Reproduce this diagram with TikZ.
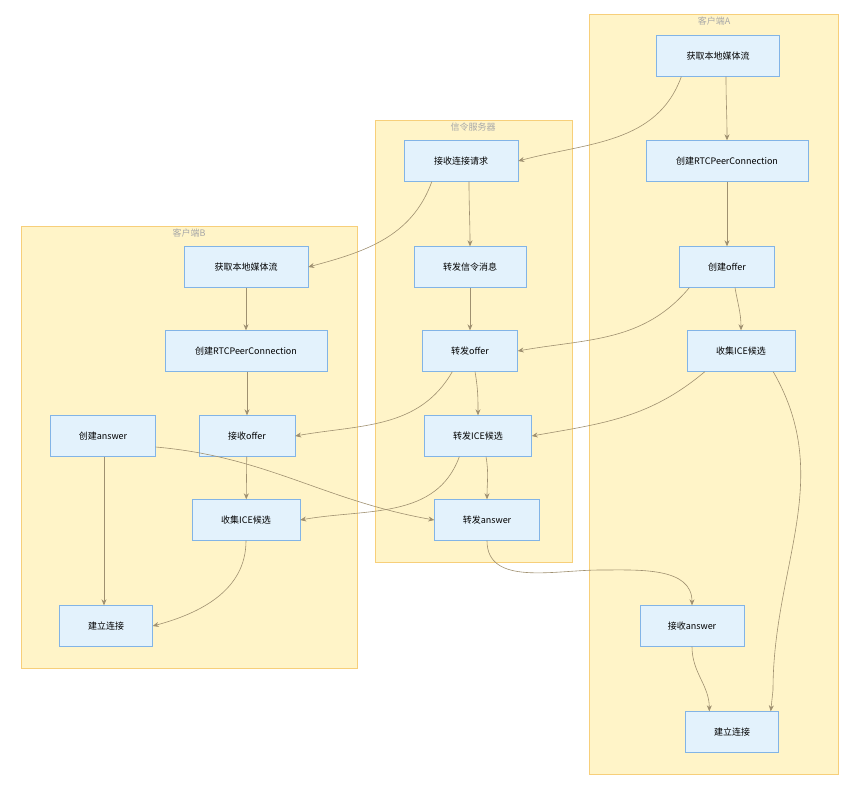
\documentclass[tikz,border=0pt]{standalone}
\usepackage{fontspec}
\setmainfont{Noto Sans CJK SC}
\usetikzlibrary{arrows.meta,calc}
\definecolor{clusterfill}{HTML}{FFF4C8}
\definecolor{clusterline}{HTML}{F7CF7A}
\definecolor{boxfill}{HTML}{E3F2FC}
\definecolor{boxline}{HTML}{82B4E6}
\definecolor{edgecol}{HTML}{9F9070}
\definecolor{titlecol}{HTML}{A8A8A8}
\tikzset{
  flowbox/.style={draw=boxline, fill=boxfill, minimum height=41pt, inner sep=0pt, font=\fontsize{9}{10}\selectfont},
  cluster/.style={draw=clusterline, fill=clusterfill},
  ctitle/.style={text=titlecol, font=\fontsize{9}{10}\selectfont},
  link/.style={draw=edgecol, -{Stealth[length=6pt,width=5pt]}, line width=0.6pt}
}
\begin{document}
\begin{tikzpicture}[x=1pt, y=-1pt]
\useasboundingbox (0,0) rectangle (861,796);

% clusters
\draw [cluster] (589,14) rectangle (838,774);
\node [ctitle] (title-a) at (714,21) {客户端A};
\draw [cluster] (375,120) rectangle (572,562);
\node [ctitle] (title-s) at (473,127) {信令服务器};
\draw [cluster] (21,226) rectangle (357,668);
\node [ctitle] (title-b) at (189,233) {客户端B};

% client A
\node [flowbox, minimum width=123pt] (a-media) at (718,56) {获取本地媒体流};
\node [flowbox, minimum width=162pt] (a-pc) at (727,161) {创建RTCPeerConnection};
\node [flowbox, minimum width=95pt] (a-offer) at (727,267) {创建offer};
\node [flowbox, minimum width=108pt] (a-ice) at (741,351) {收集ICE候选};
\node [flowbox, minimum width=104pt] (a-answer) at (692,626) {接收answer};
\node [flowbox, minimum width=93pt] (a-conn) at (732,732) {建立连接};

% signalling server
\node [flowbox, minimum width=114pt] (s-req) at (461,161) {接收连接请求};
\node [flowbox, minimum width=112pt] (s-msg) at (470,267) {转发信令消息};
\node [flowbox, minimum width=95pt] (s-offer) at (470,351) {转发offer};
\node [flowbox, minimum width=107pt] (s-ice) at (478,436) {转发ICE候选};
\node [flowbox, minimum width=105pt] (s-answer) at (487,520) {转发answer};

% client B
\node [flowbox, minimum width=124pt] (b-media) at (246,267) {获取本地媒体流};
\node [flowbox, minimum width=162pt] (b-pc) at (246,351) {创建RTCPeerConnection};
\node [flowbox, minimum width=105pt] (b-answer) at (103,436) {创建answer};
\node [flowbox, minimum width=96pt] (b-offer) at (247,436) {接收offer};
\node [flowbox, minimum width=108pt] (b-ice) at (246,520) {收集ICE候选};
\node [flowbox, minimum width=93pt] (b-conn) at (106,626) {建立连接};

% edges
\draw [link] ($(a-media.south west)+(25,0)$) to[out=-110, in=15] (s-req.east);
\draw [link] ($(a-media.south)+(8,0)$) to[out=-90, in=90] (a-pc.north);
\draw [link] (a-pc) -- (a-offer);
\draw [link] ($(a-offer.south)+(8,0)$) to[out=-80, in=90] (a-ice.north);
\draw [link] ($(a-offer.south west)+(10,0)$) to[out=-130, in=10] (s-offer.east);
\draw [link] ($(a-ice.south west)+(18,0)$) to[out=-140, in=10] (s-ice.east);
\draw [link] ($(a-ice.south east)+(-22,0)$) to[out=-60, in=90] (773,690) -- ($(a-conn.north east)+(-8,0)$);
\draw [link] ($(s-req.south west)+(28,0)$) to[out=-110, in=15] (b-media.east);
\draw [link] ($(s-req.south)+(8,0)$) to[out=-90, in=90] (s-msg.north);
\draw [link] (s-msg) -- (s-offer);
\draw [link] ($(s-offer.south west)+(30,0)$) to[out=-120, in=10] (b-offer.east);
\draw [link] ($(s-offer.south)+(5,0)$) to[out=-80, in=90] (s-ice.north);
\draw [link] ($(s-ice.south west)+(35,0)$) to[out=-110, in=10] (b-ice.east);
\draw [link] ($(s-ice.south)+(8,0)$) to[out=-80, in=90] (s-answer.north);
\draw [link] (s-answer.south) to[out=-90, in=180] (600,570) to[out=0, in=90] (a-answer.north);
\draw [link] (a-answer.south) to[out=-90, in=90] ($(a-conn.north west)+(24,0)$);
\draw [link] (b-media) -- (b-pc);
\draw [link] ($(b-pc.south)+(1,0)$) -- (b-offer.north);
\draw [link] (b-offer) -- (b-ice);
\draw [link] (b-ice.south) to[out=-90, in=15] (b-conn.east);
\draw [link] ($(b-answer.south)+(1,0)$) -- ($(b-conn.north)+(-2,0)$);
\draw [link] ($(b-answer.east)+(0,11)$) to[out=-5, in=170] (s-answer.west);
\end{tikzpicture}
\end{document}
